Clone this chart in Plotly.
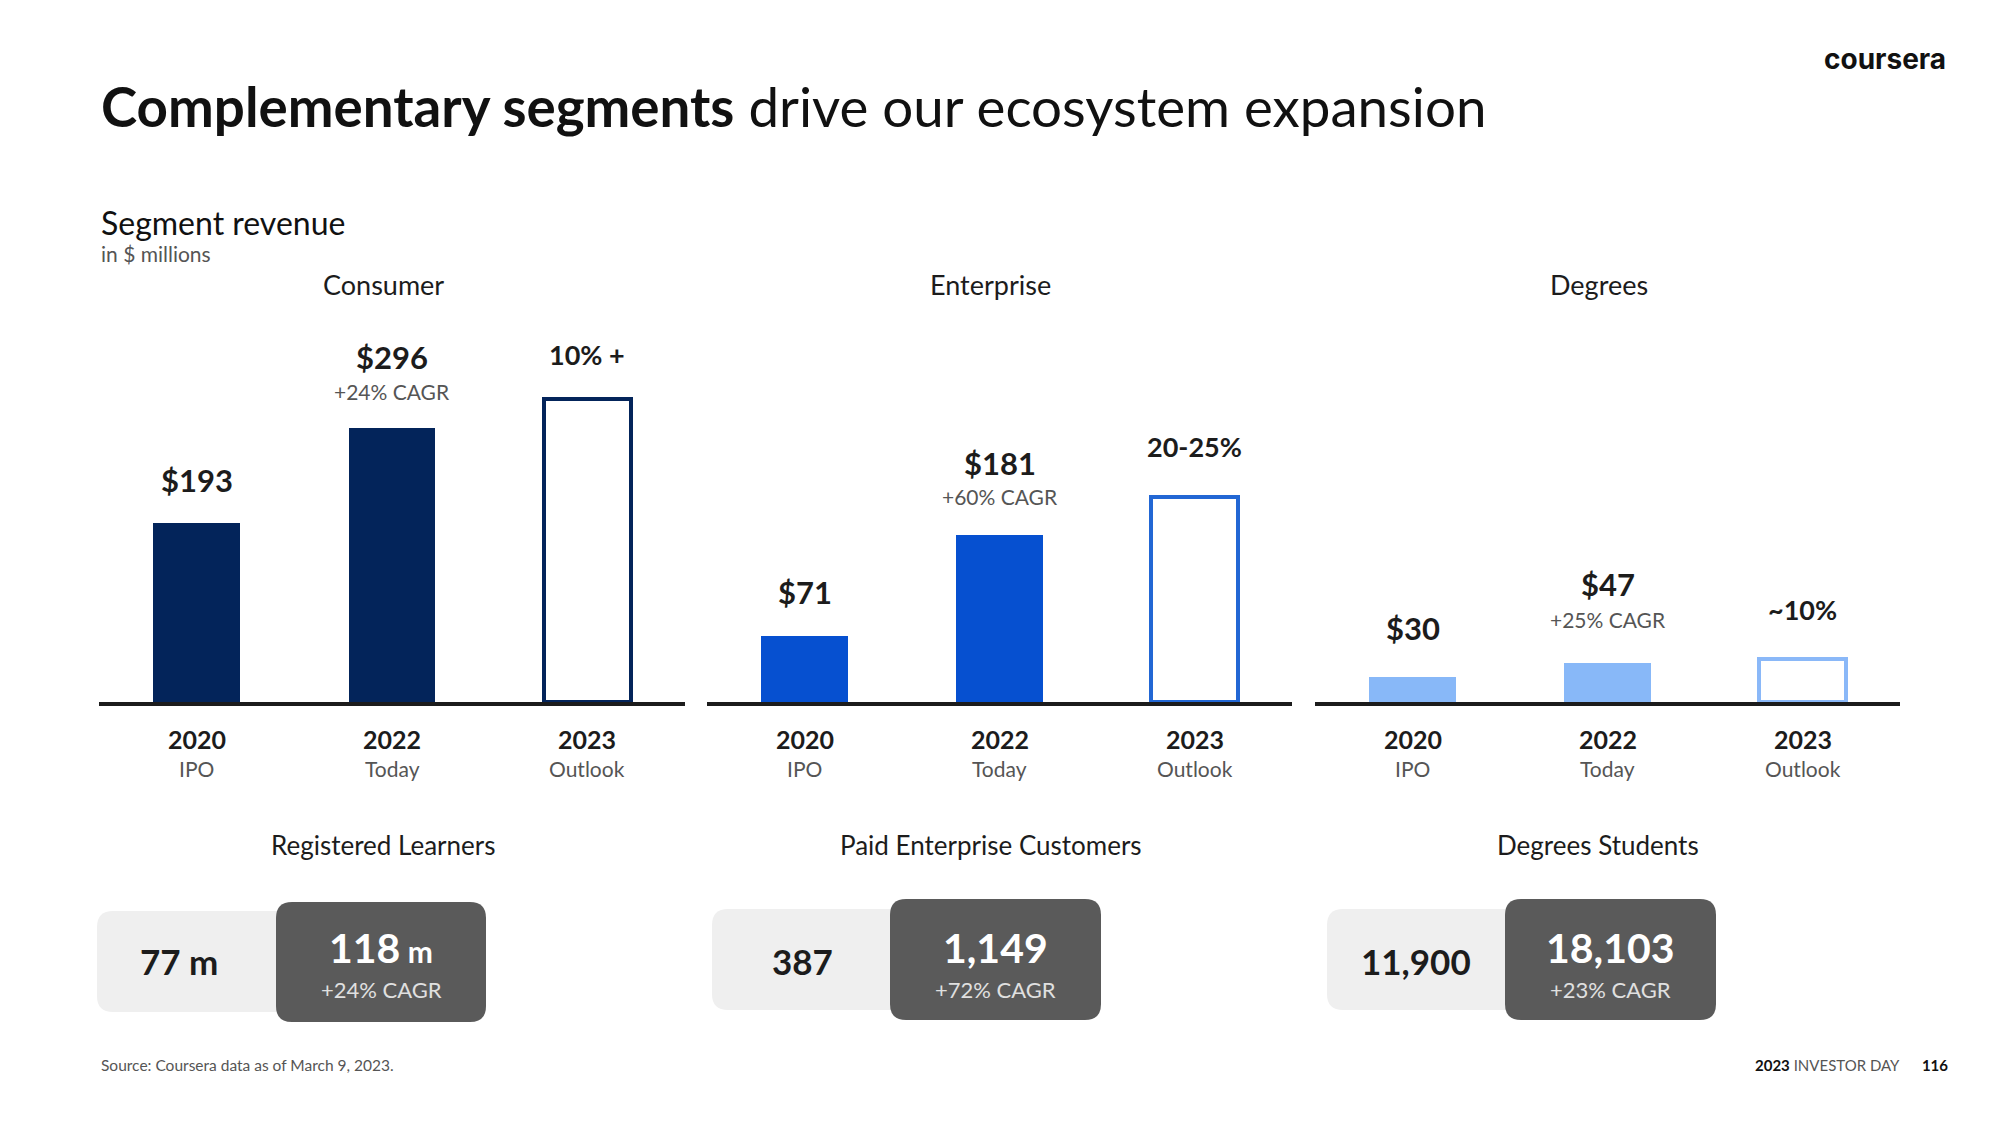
import plotly.graph_objects as go

# ---------------- data ----------------
segments = ["Consumer", "Enterprise", "Degrees"]
years = ["2020", "2022", "2023"]
year_sub = ["IPO", "Today", "Outlook"]
consumer_rev = [193, 296, 328]
enterprise_rev = [71, 181, 222]
degrees_rev = [30, 47, 52]
consumer_labels = ["$193", "$296", "10% +"]
enterprise_labels = ["$71", "$181", "20-25%"]
degrees_labels = ["$30", "$47", "~10%"]
cagr_labels = ["+24% CAGR", "+60% CAGR", "+25% CAGR"]

metric_titles = ["Registered Learners", "Paid Enterprise Customers", "Degrees Students"]
metric_2020 = ["77 m", "387", "11,900"]
metric_2022_num = ["118", "1,149", "18,103"]
metric_2022_unit = [" m", "", ""]
metric_cagr = ["+24% CAGR", "+72% CAGR", "+23% CAGR"]

# ---------------- style ----------------
W, H = 2000, 1125
FONT = "Lato"
fill_colors = ["#03245a", "#0650d0", "#88b8f8"]
outline_colors = ["#03245a", "#2267d4", "#8ab8f8"]
DARK = "#1c1c1c"
GREY = "#555555"


def px(x):
    return x / W


def py(y):
    return 1 - y / H


def ann(text, x, y, size, color=DARK, xanchor="center", yanchor="middle",
        xref="paper", yref="paper", family=FONT, **kw):
    return dict(text=text, x=x, y=y, xref=xref, yref=yref, xanchor=xanchor,
                yanchor=yanchor, showarrow=False,
                font=dict(family=family, size=size, color=color), **kw)


fig = go.Figure()

revs = [consumer_rev, enterprise_rev, degrees_rev]
labels = [consumer_labels, enterprise_labels, degrees_labels]
panel_x = [(99, 685), (707, 1292), (1315, 1900)]
base_y, top_y = 702, 250
px_per_unit = [0.925, 0.925, 0.83]

# offsets (px above bar top) for the main labels and cagr labels
main_off = [[43, 71, 44], [44, 72, 50], [49, 79, 49]]
cagr_off = [37, 38, 43]

annotations = []
for i in range(3):
    sfx = "" if i == 0 else str(i + 1)
    xa, ya = "x" + sfx, "y" + sfx
    fig.add_trace(go.Bar(
        x=years, y=revs[i], xaxis=xa, yaxis=ya, width=0.445,
        marker=dict(color=[fill_colors[i], fill_colors[i], "white"],
                    line=dict(color=[fill_colors[i], fill_colors[i], outline_colors[i]],
                              width=[0, 0, 4])),
        showlegend=False, hoverinfo="skip"))
    x0, x1 = panel_x[i]
    fig.layout["xaxis" + sfx] = dict(
        domain=[px(x0), px(x1)], anchor=ya, type="category",
        categoryorder="array", categoryarray=years,
        range=[-0.5, 2.5], showline=True, linecolor=DARK, linewidth=4,
        showticklabels=False, showgrid=False, zeroline=False, ticks="")
    fig.layout["yaxis" + sfx] = dict(
        domain=[py(base_y), py(top_y)], anchor=xa,
        range=[0, (base_y - top_y) / px_per_unit[i]],
        visible=False, showgrid=False, zeroline=False)

    # panel header
    annotations.append(ann(segments[i], 0.485, py(284), 27, xref=xa + " domain"))
    for j in range(3):
        bold_size = 31 if j < 2 else 27
        # category positions addressed by index
        annotations.append(ann("<b>%s</b>" % labels[i][j], j, revs[i][j], bold_size,
                               xref=xa, yref=ya, yshift=main_off[i][j]))
        annotations.append(ann("<b>%s</b>" % years[j], j, py(739), 25, xref=xa))
        annotations.append(ann(year_sub[j], j, py(768), 21, color=GREY, xref=xa))
    annotations.append(ann(cagr_labels[i], 1, revs[i][1], 21, color=GREY,
                           xref=xa, yref=ya, yshift=cagr_off[i]))

# ---------------- bottom metric boxes ----------------
shapes = []


def rrect(x0, y0, x1, y1, r, color):
    rx, ry = r / W, r / H
    X0, X1 = px(x0), px(x1)
    Y0, Y1 = py(y1), py(y0)  # bottom, top in paper
    path = (f"M {X0+rx},{Y0} L {X1-rx},{Y0} Q {X1},{Y0} {X1},{Y0+ry} "
            f"L {X1},{Y1-ry} Q {X1},{Y1} {X1-rx},{Y1} L {X0+rx},{Y1} "
            f"Q {X0},{Y1} {X0},{Y1-ry} L {X0},{Y0+ry} Q {X0},{Y0} {X0+rx},{Y0} Z")
    return dict(type="path", path=path, xref="paper", yref="paper",
                fillcolor=color, line=dict(width=0), layer="below")


light_boxes = [(97, 911, 330, 1012), (712, 909, 945, 1010), (1327, 909, 1560, 1010)]
dark_boxes = [(276, 902, 486, 1022), (890, 899, 1101, 1020), (1505, 899, 1716, 1020)]
light_text_x = [179, 802, 1416]
title_x = [383, 991, 1598]

for i in range(3):
    lb, db = light_boxes[i], dark_boxes[i]
    shapes.append(rrect(*lb, 16, "#efefef"))
    shapes.append(rrect(*db, 16, "#5a5a5a"))
    annotations.append(ann(metric_titles[i], px(title_x[i]), py(845), 26))
    annotations.append(ann("<b>%s</b>" % metric_2020[i], px(light_text_x[i]),
                           py(961), 35))
    unit = metric_2022_unit[i]
    txt = "<b>%s</b>" % metric_2022_num[i]
    if unit:
        txt += "<span style='font-size:30px'><b>%s</b></span>" % unit
    cx = px((db[0] + db[2]) / 2)
    annotations.append(ann(txt, cx, py(947), 41, color="white"))
    annotations.append(ann(metric_cagr[i], cx, py(989), 22, color="#e0e0e0"))

# ---------------- titles & footer ----------------
annotations += [
    ann("<b>Complementary segments</b> drive our ecosystem expansion",
        px(99), py(106), 54.7, color="#111111", xanchor="left"),
    ann("<b>coursera</b>", px(1948), py(59), 28, color="#111111", xanchor="right",
        family="Inter"),
    ann("Segment revenue", px(99), py(222), 32, color="#111111", xanchor="left"),
    ann("in $ millions", px(99), py(254), 21, color=GREY, xanchor="left"),
    ann("Source: Coursera data as of March 9, 2023.", px(99), py(1065), 15.5,
        color=GREY, xanchor="left"),
    ann("<b>2023</b> <span style='color:#555'>INVESTOR DAY</span>      <b>116</b>",
        px(1950), py(1065), 15, color="#111111", xanchor="right"),
]

fig.update_layout(width=W, height=H, margin=dict(l=0, r=0, t=0, b=0),
                  paper_bgcolor="white", plot_bgcolor="white",
                  annotations=annotations, shapes=shapes, bargap=0)
fig.write_html("out.html", config={"displayModeBar": False},
               post_script="document.body.style.margin='0';document.body.style.overflow='hidden';")
